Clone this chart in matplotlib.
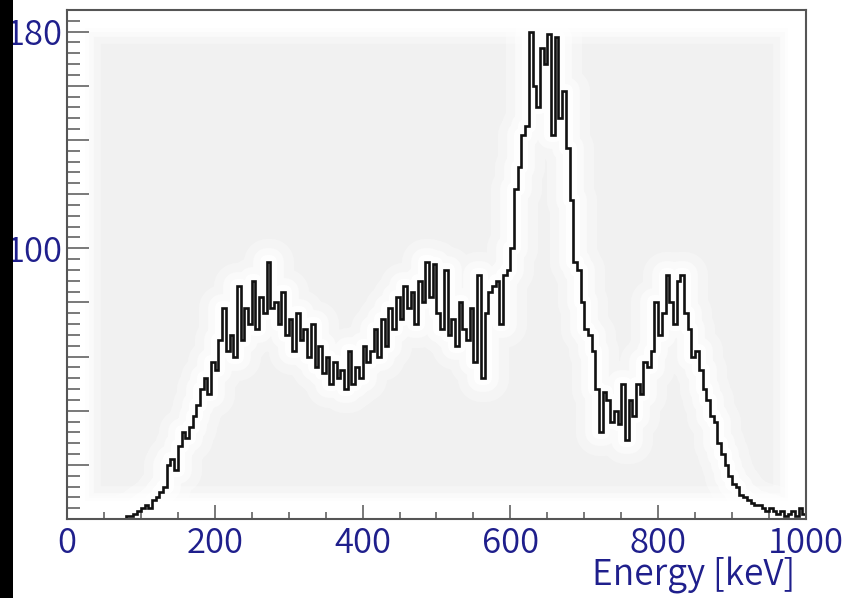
import matplotlib
matplotlib.use('Agg')
import matplotlib.pyplot as plt
import numpy as np
from matplotlib.patches import Rectangle
from matplotlib.ticker import MultipleLocator

plt.rcParams['font.family'] = ['Noto Sans CJK JP', 'DejaVu Sans']
plt.rcParams['font.weight'] = 350

# ---- data: energy histogram, 5 keV bins from 0 to 1000 keV ----
bin_edges = np.arange(0, 1005, 5)
counts = [
    # 0 - 95
    0, 0, 0, 0, 0, 0, 0, 0, 0, 0, 0, 0, 0, 0, 0, 0, 1, 1, 2, 3,
    # 100 - 195
    4, 5, 4, 7, 8, 10, 12, 20, 22, 18, 27, 32, 30, 34, 38, 42, 48, 52, 46, 58,
    # 200 - 295
    55, 66, 78, 62, 68, 60, 86, 66, 78, 72, 88, 70, 82, 76, 95, 78, 80, 72, 84, 68,
    # 300 - 395
    74, 62, 76, 66, 70, 60, 72, 56, 64, 54, 60, 50, 58, 52, 55, 48, 62, 50, 56, 52,
    # 400 - 495
    64, 58, 62, 70, 60, 74, 64, 78, 70, 82, 74, 86, 78, 84, 72, 88, 80, 95, 82, 94,
    # 500 - 595
    76, 70, 92, 68, 74, 64, 80, 70, 66, 78, 58, 90, 52, 76, 84, 86, 88, 72, 90, 92,
    # 600 - 695
    100, 122, 130, 142, 145, 180, 160, 152, 174, 168, 179, 142, 178, 148, 158, 137, 118, 95, 92, 80,
    # 700 - 795
    70, 68, 62, 48, 32, 47, 44, 36, 40, 35, 50, 29, 44, 38, 50, 46, 58, 56, 62, 80,
    # 800 - 895
    68, 76, 90, 80, 72, 88, 90, 76, 70, 60, 62, 55, 48, 44, 38, 36, 28, 24, 20, 16,
    # 900 - 995
    13, 12, 9, 8, 7, 6, 5, 5, 4, 3, 4, 3, 2, 3, 1, 2, 3, 1, 4, 2,
]

xticks = [0, 200, 400, 600, 800, 1000]
ytick_vals = list(range(0, 181, 20))
ytick_labels = ['100' if v == 100 else '180' if v == 180 else '' for v in ytick_vals]

navy = '#1f1f8c'
frame = '#555555'

fig = plt.figure(figsize=(8.61, 5.98), dpi=100)
fig.patch.set_facecolor('white')
ax = fig.add_axes([0.0778, 0.1321, 0.8583, 0.8512])
ax.set_facecolor('white')
ax.set_xlim(0, 1000)
ax.set_ylim(0, 188)

# soft grey plot background with white halo near the frame
bg = Rectangle((0.025, 0.035), 0.95, 0.93, transform=ax.transAxes,
               facecolor='#f1f1f1', edgecolor='none', zorder=0)
ax.add_patch(bg)
for lw, a in [(22, 0.35), (12, 0.5), (5, 0.7)]:
    ax.add_patch(Rectangle((0.025, 0.035), 0.95, 0.93, transform=ax.transAxes,
                           facecolor='none', edgecolor='white', lw=lw, alpha=a,
                           joinstyle='round', zorder=0.5))

# white glow around the histogram
for lw, a in [(34, 0.3), (20, 0.5), (10, 0.9)]:
    ax.stairs(counts, bin_edges, color='white', lw=lw, alpha=a,
              joinstyle='round', zorder=1)
ax.stairs(counts, bin_edges, color='#111111', lw=1.9, zorder=2)

# axes styling
for s in ax.spines.values():
    s.set_color(frame)
    s.set_linewidth(1.5)
    s.set_zorder(3)

ax.set_xticks(xticks)
ax.set_xticklabels([str(v) for v in xticks])
ax.xaxis.set_minor_locator(MultipleLocator(50))
ax.set_yticks(ytick_vals)
ax.set_yticklabels(ytick_labels)
ax.yaxis.set_minor_locator(MultipleLocator(4))

ax.tick_params(axis='x', which='major', direction='in', length=10, width=1.1,
               color=frame, labelsize=25, labelcolor=navy, pad=5, top=False)
ax.tick_params(axis='x', which='minor', direction='in', length=5, width=1.1,
               color=frame, top=False)
ax.tick_params(axis='y', which='major', direction='in', length=16, width=1.1,
               color=frame, labelsize=25, labelcolor=navy, pad=3, right=False)
ax.tick_params(axis='y', which='minor', direction='in', length=9, width=1.1,
               color=frame, right=False)

fig.text(795 / 861, 1 - 576 / 598, 'Energy [keV]', fontsize=25.5, color=navy,
         ha='right', va='center')

# black strip on the left edge of the screenshot
fig.patches.append(Rectangle((0, 0), 12.5 / 861, 1, transform=fig.transFigure,
                             facecolor='black', edgecolor='none', zorder=10))

fig.savefig('out.png', dpi=100, facecolor='white')
plt.close(fig)
